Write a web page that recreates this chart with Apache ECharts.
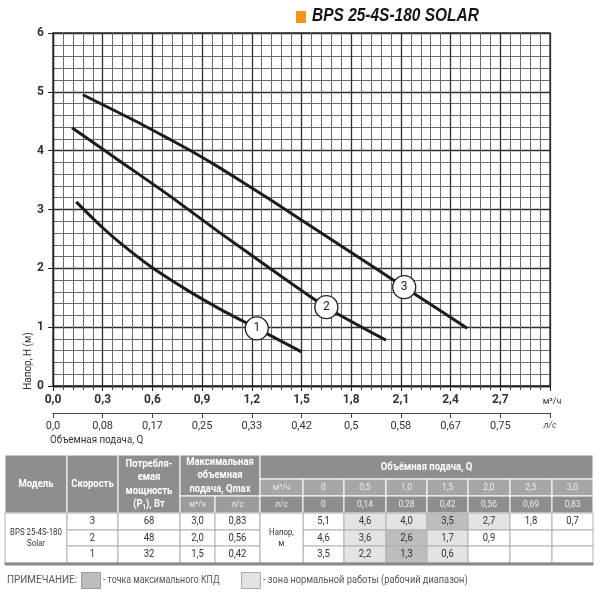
<!DOCTYPE html>
<html><head><meta charset="utf-8">
<script src="https://cdn.jsdelivr.net/npm/echarts@6/dist/echarts.min.js"></script>
<style>html,body{margin:0;padding:0;background:#fff}#c{width:600px;height:600px}</style>
</head><body><div id="c"></div>
<script>
// ---- chart data ----
const curve1 = [[0.14,3.13],[0.30,2.69],[0.45,2.33],[0.60,2.01],[0.81,1.63],[1.00,1.32],[1.23,0.98],[1.50,0.58]];
const curve2 = [[0.115,4.39],[0.40,3.83],[0.70,3.24],[1.00,2.62],[1.30,2.02],[1.65,1.34],[2.01,0.78]];
const curve3 = [[0.18,4.95],[0.50,4.50],[0.70,4.20],[0.85,3.97],[1.00,3.72],[1.31,3.17],[1.49,2.84],[1.80,2.27],[2.12,1.68],[2.50,0.98]];
const curveTags = [[1.23,0.98,'1'],[1.65,1.34,'2'],[2.12,1.68,'3']];
const lsTickLabels = ['0,0','0,08','0,17','0,25','0,33','0,42','0,5','0,58','0,67','0,75','л/с'];

// ---- table data ----
const speeds = [3,2,1];
const powers = [68,48,32];
const qmaxM3 = ['3,0','2,0','1,5'];
const qmaxLs = ['0,83','0,56','0,42'];
const flowM3 = ['0','0,5','1,0','1,5','2,0','2,5','3,0'];
const flowLs = ['0','0,14','0,28','0,42','0,56','0,69','0,83'];
const heads = [
  [5.1,4.6,4.0,3.5,2.7,1.8,0.7],
  [4.6,3.6,2.6,1.7,0.9,null,null],
  [3.5,2.2,1.3,0.6,null,null,null]
];
const shade = [ // 0 none, 1 working range, 2 max efficiency
  [0,1,1,2,1,0,0],
  [0,1,2,1,0,0,0],
  [0,1,2,1,0,0,0]
];
const modelName = 'BPS 25-4S-180\nSolar';

// ---- layout (table grid units) ----
const colE = [0,62,113,175,210,255,298,339,381,422,463,505,547,588];
const rowE = [0,24,41,58,75,91,108,110];

const FONT = 'Roboto, "Noto Sans", sans-serif';
const styles = {
  hd:  {fill:'#8e8e8e', stroke:'#ffffff', color:'#ffffff', size:11, weight:'bold', lh:13.5, sx:0.86},
  sub: {fill:'#a6a6a6', stroke:'#ffffff', color:'#eeeeee', size:9, weight:'normal', lh:11, sx:0.95},
  sub2:{fill:'#8e8e8e', stroke:'#ffffff', color:'#eeeeee', size:9, weight:'normal', lh:11, sx:0.95},
  subq:{fill:'#9c9c9c', stroke:'#ffffff', color:'#eeeeee', size:8.5, weight:'normal', lh:11, sx:0.95},
  d0:  {fill:'#ffffff', stroke:'#b0b0b0', color:'#333333', size:10, weight:'normal', lh:12, sx:0.95},
  d1:  {fill:'#e3e3e3', stroke:'#b0b0b0', color:'#333333', size:10, weight:'normal', lh:12, sx:0.95},
  d2:  {fill:'#bdbdbd', stroke:'#b0b0b0', color:'#333333', size:10, weight:'normal', lh:12, sx:0.95},
  dm:  {fill:'#ffffff', stroke:'#b0b0b0', color:'#333333', size:9, weight:'normal', lh:11, sx:0.87},
  bar: {fill:'#8a8a8a', stroke:'#8a8a8a', color:'#000', size:9, weight:'normal', lh:11, sx:1}
};
const fmt = v => v.toFixed(1).replace('.', ',');
const cells = [];
function cell(c0,c1,r0,r1,text,kind){ cells.push({c0,c1,r0,r1,text,kind}); }
cell(0,1,0,3,'Модель','hd');
cell(1,2,0,3,'Скорость','hd');
cell(2,3,0,3,'Потребля-\nемая\nмощность\n(P{s|1}), Вт','hd');
cell(3,5,0,2,'Максимальная\nобъемная\nподача, Qmax','hd');
cell(3,4,2,3,'м³/ч','subq');
cell(4,5,2,3,'л/с','subq');
cell(5,13,0,1,'Объёмная подача, Q','hd');
cell(5,6,1,2,'м³/ч','sub');
flowM3.forEach((t,i)=>cell(6+i,7+i,1,2,t,'sub'));
cell(5,6,2,3,'л/с','sub2');
flowLs.forEach((t,i)=>cell(6+i,7+i,2,3,t,'sub2'));
cell(0,1,3,6,modelName,'dm');
speeds.forEach((s,r)=>{
  cell(1,2,3+r,4+r,String(s),'d0');
  cell(2,3,3+r,4+r,String(powers[r]),'d0');
  cell(3,4,3+r,4+r,qmaxM3[r],'d0');
  cell(4,5,3+r,4+r,qmaxLs[r],'d0');
  heads[r].forEach((h,i)=>cell(6+i,7+i,3+r,4+r,h==null?'':fmt(h),'d'+shade[r][i]));
});
cell(5,6,3,6,'Напор,\nм','dm');
cell(0,13,6,7,'','bar');

const tableData = cells.map(c=>[colE[c.c0],rowE[c.r0],colE[c.c1],rowE[c.r1]]);

function renderCell(params, api){
  const c = cells[params.dataIndex];
  const st = styles[c.kind];
  const p0 = api.coord([api.value(0), api.value(1)]);
  const p1 = api.coord([api.value(2), api.value(3)]);
  const x = Math.min(p0[0],p1[0]), y = Math.min(p0[1],p1[1]);
  const w = Math.abs(p1[0]-p0[0]), h = Math.abs(p1[1]-p0[1]);
  return {type:'group', children:[
    {type:'rect', shape:{x,y,width:w,height:h}, style:{fill:st.fill, stroke:st.stroke, lineWidth:1}},
    {type:'text', x:x+w/2, y:y+h/2, scaleX:st.sx, style:{text:c.text, fill:st.color, fontSize:st.size, fontWeight:st.weight,
      fontFamily:FONT, align:'center', verticalAlign:'middle', lineHeight:st.lh,
      rich:{s:{fontSize:7, fill:st.color, fontWeight:'bold', fontFamily:FONT, padding:[5,0,0,0]}}}}
  ]};
}

const lineStyle = {color:'#1c1c1c', width:3};
const chart = echarts.init(document.getElementById('c'), null, {renderer:'canvas'});
chart.setOption({
  animation:false,
  textStyle:{fontFamily:FONT},
  grid:[
    {left:53, top:33, width:497, height:353, show:true, borderColor:'#2a2a2a', borderWidth:1.3},
    {left:5, top:455, width:588, height:110}
  ],
  xAxis:[
    {gridIndex:0, type:'value', min:0, max:3, interval:0.3, position:'bottom',
     axisLine:{show:true, onZero:false, lineStyle:{color:'#222', width:1.3}},
     axisTick:{show:true, length:5, lineStyle:{color:'#222'}},
     minorTick:{show:true, splitNumber:5, length:4, lineStyle:{color:'#444'}},
     splitLine:{show:true, lineStyle:{color:'#2e2e2e', width:1.3}},
     minorSplitLine:{show:true, lineStyle:{color:'#6a6a6a', width:1}},
     axisLabel:{margin:8, color:'#333', fontWeight:'bold', fontSize:12,
       formatter:v=>Math.abs(v-3)<1e-6 ? '{u|м³/ч}' : fmt(v),
       rich:{u:{fontSize:9, fontWeight:'normal', color:'#333', padding:[3,0,0,4]}}}},
    {gridIndex:0, type:'value', min:0, max:3, interval:0.3, position:'bottom', offset:27,
     axisLine:{show:true, onZero:false, lineStyle:{color:'#444', width:1.2}},
     axisTick:{show:true, length:5, lineStyle:{color:'#444'}},
     splitLine:{show:false},
     axisLabel:{margin:8, color:'#333', fontSize:11,
       formatter:v=>{const t=lsTickLabels[Math.round(v/0.3)]; return t==='л/с' ? '{u|л/с}' : t;},
       rich:{u:{fontSize:9, fontStyle:'italic', color:'#444'}}}},
    {gridIndex:1, type:'value', min:0, max:588, show:false}
  ],
  yAxis:[
    {gridIndex:0, type:'value', min:0, max:6, interval:1,
     axisLine:{show:true, lineStyle:{color:'#222', width:1.3}},
     axisTick:{show:true, length:5, lineStyle:{color:'#222'}},
     splitLine:{show:true, lineStyle:{color:'#2e2e2e', width:1.3}},
     minorSplitLine:{show:true, lineStyle:{color:'#6a6a6a', width:1}},
     minorTick:{show:false, splitNumber:5},
     axisLabel:{margin:9, color:'#333', fontWeight:'bold', fontSize:12}},
    {gridIndex:1, type:'value', min:0, max:110, inverse:true, show:false}
  ],
  series:[
    {type:'line', xAxisIndex:0, yAxisIndex:0, data:curve1, smooth:0.25, showSymbol:false, lineStyle, z:3},
    {type:'line', xAxisIndex:0, yAxisIndex:0, data:curve2, smooth:0.25, showSymbol:false, lineStyle, z:3},
    {type:'line', xAxisIndex:0, yAxisIndex:0, data:curve3, smooth:0.25, showSymbol:false, lineStyle, z:3},
    {type:'scatter', xAxisIndex:0, yAxisIndex:0, data:curveTags, symbolSize:23, z:5,
     itemStyle:{color:'#fff', borderColor:'#222', borderWidth:1.3, opacity:1},
     label:{show:true, position:'inside', formatter:p=>p.data[2], color:'#222', fontSize:12}},
    {type:'custom', xAxisIndex:2, yAxisIndex:1, coordinateSystem:'cartesian2d', clip:false, silent:true,
     encode:{x:[0,2], y:[1,3]}, data:tableData, renderItem:renderCell}
  ],
  graphic:[
    {type:'rect', left:296, top:11, shape:{width:10, height:12}, style:{fill:'#f7941d'}},
    {type:'text', x:312, y:7, scaleX:0.86, style:{text:'BPS 25-4S-180 SOLAR', fill:'#151515',
      font:'italic bold 18px "Liberation Sans", Arial, sans-serif'}},
    {type:'text', x:28, y:361, rotation:Math.PI/2, scaleX:0.9, style:{text:'Напор, H (м)', fill:'#333', fontSize:11,
      fontFamily:FONT, align:'center', verticalAlign:'middle'}},
    {type:'text', x:50, y:435, scaleX:0.89, style:{text:'Объемная подача, Q', fill:'#333', fontSize:11, fontFamily:FONT}},
    {type:'text', x:7, y:575, scaleX:0.9, style:{text:'ПРИМЕЧАНИЕ:', fill:'#555', fontSize:11, fontFamily:FONT}},
    {type:'rect', left:81, top:572, shape:{width:19, height:16}, style:{fill:'#bdbdbd', stroke:'#9a9a9a', lineWidth:1}},
    {type:'text', x:103, y:575, scaleX:0.8, style:{text:'- точка максимального КПД', fill:'#555', fontSize:11, fontFamily:FONT}},
    {type:'rect', left:241, top:572, shape:{width:19, height:16}, style:{fill:'#e3e3e3', stroke:'#aaaaaa', lineWidth:1}},
    {type:'text', x:263, y:575, scaleX:0.84, style:{text:'- зона нормальной работы (рабочий диапазон)', fill:'#555', fontSize:11, fontFamily:FONT}}
  ]
});
</script></body></html>
